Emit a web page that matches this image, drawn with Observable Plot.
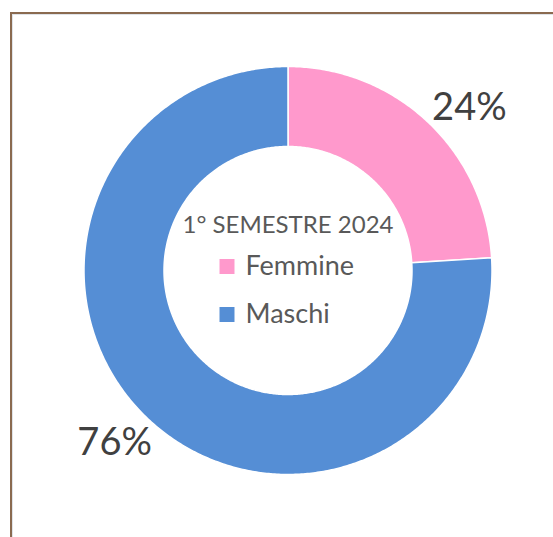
<!DOCTYPE html>
<html>
<head>
<meta charset="utf-8">
<script src="https://cdn.jsdelivr.net/npm/d3@7"></script>
<script src="https://cdn.jsdelivr.net/npm/@observablehq/plot@0.6"></script>
<style>
  html, body { margin: 0; padding: 0; background: #fff; }
  #wrap { position: relative; width: 553px; height: 537px; overflow: hidden; }
  #frame { position: absolute; left: 10px; top: 12px; right: -10px; bottom: -10px;
           border-top: 2px solid #8a6a50; border-left: 2px solid #8a6a50; box-sizing: border-box; }
  #frame::after { content: ""; position: absolute; left: 0; top: 0; right: 0; bottom: 0;
           border-top: 1px solid #dfe3e8; border-left: 1px solid #dfe3e8; }
  #chart { position: absolute; left: 0; top: 0; }
</style>
</head>
<body>
<div id="wrap"><div id="frame"></div><div id="chart"></div></div>
<script>
// ---- data ----
const categories = ["Femmine", "Maschi"];
const values = [24, 76];
const colors = ["#FF99CC", "#558ED5"];
const title = "1° SEMESTRE 2024";
const labels = ["24%", "76%"];

// ---- layout ----
const W = 553, H = 537;
const cx = 287.5, cy = 270, R = 204, r = 124;

const data = categories.map((c, i) => ({category: c, value: values[i], label: labels[i]}));
const arcs = d3.pie().sort(null).value(d => d.value)(data);

// polygon points of each ring slice
const pts = [];
for (const a of arcs) {
  const n = Math.max(8, Math.ceil((a.endAngle - a.startAngle) / 0.01));
  for (let k = 0; k <= n; k++) {
    const t = a.startAngle + (a.endAngle - a.startAngle) * k / n;
    pts.push({category: a.data.category, x: cx + R * Math.sin(t), y: cy - R * Math.cos(t)});
  }
  for (let k = n; k >= 0; k--) {
    const t = a.startAngle + (a.endAngle - a.startAngle) * k / n;
    pts.push({category: a.data.category, x: cx + r * Math.sin(t), y: cy - r * Math.cos(t)});
  }
}

// data labels outside the ring
const labelPts = arcs.map(a => {
  const m = (a.startAngle + a.endAngle) / 2 + 0.06;
  const rr = R * 1.196;
  return {label: a.data.label, x: cx + rr * Math.sin(m) + 4, y: cy - rr * Math.cos(m) + 5};
});

const legend = categories.map((c, i) => ({category: c, i}));

const plot = Plot.plot({
  width: W, height: H,
  margin: 0,
  x: {domain: [0, W], range: [0, W], axis: null},
  y: {domain: [0, H], range: [0, H], axis: null},
  color: {domain: categories, range: colors},
  style: {background: "transparent", fontFamily: "Lato, 'Open Sans', sans-serif"},
  marks: [
    Plot.line(pts, {x: "x", y: "y", z: "category", fill: "category", stroke: "white",
                    strokeWidth: 1.5, curve: "linear-closed"}),
    Plot.text(labelPts, {x: "x", y: "y", text: "label", fontSize: 38, fill: "#404040",
                         textAnchor: "middle", lineAnchor: "middle"}),
    Plot.text([title], {x: () => cx, y: () => 225, text: d => d, fontSize: 24,
                        fill: "#595959", textAnchor: "middle", lineAnchor: "middle"}),
    Plot.dot(legend, {x: () => 226.5, y: d => 266 + d.i * 48, fill: "category",
                      symbol: "square", r: 8.46, stroke: null}),
    Plot.text(legend, {x: () => 245, y: d => 266 + d.i * 48, text: "category", fontSize: 27,
                       fill: "#595959", textAnchor: "start", lineAnchor: "middle"})
  ]
});
document.getElementById("chart").appendChild(plot);
</script>
</body>
</html>
